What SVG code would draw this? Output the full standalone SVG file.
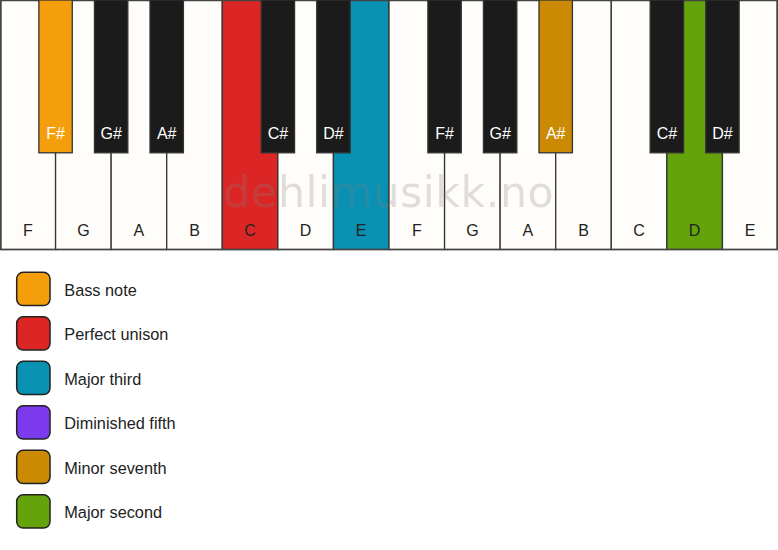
<svg xmlns="http://www.w3.org/2000/svg" width="778" height="550" viewBox="0 0 778 550">
<style>
.wk{fill:#fffdf9;stroke:#333;stroke-width:1.3}
.bk{fill:#1b1b1b;stroke:#333;stroke-width:1.3}
.wl{font-family:"Liberation Sans",Arial,sans-serif;font-size:16px;fill:#222;text-anchor:middle}
.bl{font-family:"Liberation Sans",Arial,sans-serif;font-size:16px;fill:#fff;text-anchor:middle}
.sw{stroke:#222;stroke-width:1.5}
.lt{font-family:"Liberation Sans",Arial,sans-serif;font-size:16.3px;fill:#222}
.wm{font-family:"DejaVu Sans",Verdana,sans-serif;font-size:42.5px;fill:#808080;fill-opacity:0.26}
</style>
<rect x="0" y="0" width="778" height="550" fill="#ffffff"/>
<g id="white-keys">
<g id="wk-F1"><rect class="wk" x="0.75" y="0" width="54.82" height="249.5"/><text class="wl" x="27.8" y="236">F</text></g>
<g id="wk-G1"><rect class="wk" x="55.57" y="0" width="55.57" height="249.5"/><text class="wl" x="83.4" y="236">G</text></g>
<g id="wk-A1"><rect class="wk" x="111.14" y="0" width="55.57" height="249.5"/><text class="wl" x="138.9" y="236">A</text></g>
<g id="wk-B1"><rect class="wk" x="166.71" y="0" width="55.57" height="249.5"/><text class="wl" x="194.5" y="236">B</text></g>
<g id="wk-C1"><rect class="wk" x="222.29" y="0" width="55.57" height="249.5" style="fill:#dc2626"/><text class="wl" x="250.1" y="236">C</text></g>
<g id="wk-D1"><rect class="wk" x="277.86" y="0" width="55.57" height="249.5"/><text class="wl" x="305.6" y="236">D</text></g>
<g id="wk-E1"><rect class="wk" x="333.43" y="0" width="55.57" height="249.5" style="fill:#0891b2"/><text class="wl" x="361.2" y="236">E</text></g>
<g id="wk-F2"><rect class="wk" x="389" y="0" width="55.57" height="249.5"/><text class="wl" x="416.8" y="236">F</text></g>
<g id="wk-G2"><rect class="wk" x="444.57" y="0" width="55.57" height="249.5"/><text class="wl" x="472.4" y="236">G</text></g>
<g id="wk-A2"><rect class="wk" x="500.14" y="0" width="55.57" height="249.5"/><text class="wl" x="527.9" y="236">A</text></g>
<g id="wk-B2"><rect class="wk" x="555.71" y="0" width="55.57" height="249.5"/><text class="wl" x="583.5" y="236">B</text></g>
<g id="wk-C2"><rect class="wk" x="611.29" y="0" width="55.57" height="249.5"/><text class="wl" x="639.1" y="236">C</text></g>
<g id="wk-D2"><rect class="wk" x="666.86" y="0" width="55.57" height="249.5" style="fill:#65a30d"/><text class="wl" x="694.6" y="236">D</text></g>
<g id="wk-E2"><rect class="wk" x="722.43" y="0" width="54.82" height="249.5"/><text class="wl" x="750.2" y="236">E</text></g>
</g>
<rect x="0.75" y="0.5" width="776.5" height="249" fill="none" stroke="#444" stroke-width="1.5"/>
<text class="wm" x="223.5" y="207" textLength="330" lengthAdjust="spacing">dehlimusikk.no</text>
<g id="black-keys">
<g id="bk-Fs1"><rect class="bk" x="38.87" y="0" width="33.4" height="152.8" style="fill:#f59e0b"/><text class="bl" x="55.57" y="139">F#</text></g>
<g id="bk-Gs1"><rect class="bk" x="94.44" y="0" width="33.4" height="152.8"/><text class="bl" x="111.14" y="139">G#</text></g>
<g id="bk-As1"><rect class="bk" x="150.01" y="0" width="33.4" height="152.8"/><text class="bl" x="166.71" y="139">A#</text></g>
<g id="bk-Cs1"><rect class="bk" x="261.16" y="0" width="33.4" height="152.8"/><text class="bl" x="277.86" y="139">C#</text></g>
<g id="bk-Ds1"><rect class="bk" x="316.73" y="0" width="33.4" height="152.8"/><text class="bl" x="333.43" y="139">D#</text></g>
<g id="bk-Fs2"><rect class="bk" x="427.87" y="0" width="33.4" height="152.8"/><text class="bl" x="444.57" y="139">F#</text></g>
<g id="bk-Gs2"><rect class="bk" x="483.44" y="0" width="33.4" height="152.8"/><text class="bl" x="500.14" y="139">G#</text></g>
<g id="bk-As2"><rect class="bk" x="539.01" y="0" width="33.4" height="152.8" style="fill:#ca8a04"/><text class="bl" x="555.71" y="139">A#</text></g>
<g id="bk-Cs2"><rect class="bk" x="650.16" y="0" width="33.4" height="152.8"/><text class="bl" x="666.86" y="139">C#</text></g>
<g id="bk-Ds2"><rect class="bk" x="705.73" y="0" width="33.4" height="152.8"/><text class="bl" x="722.43" y="139">D#</text></g>
</g>
<g id="legend">
<g id="lg-bass"><rect class="sw" x="16.7" y="272.3" width="33.3" height="33.3" rx="6.5" fill="#f59e0b"/><text class="lt" x="64.3" y="295.7">Bass note</text></g>
<g id="lg-unison"><rect class="sw" x="16.7" y="316.8" width="33.3" height="33.3" rx="6.5" fill="#dc2626"/><text class="lt" x="64.3" y="340.2">Perfect unison</text></g>
<g id="lg-third"><rect class="sw" x="16.7" y="361.3" width="33.3" height="33.3" rx="6.5" fill="#0891b2"/><text class="lt" x="64.3" y="384.7">Major third</text></g>
<g id="lg-fifth"><rect class="sw" x="16.7" y="405.8" width="33.3" height="33.3" rx="6.5" fill="#7c3aed"/><text class="lt" x="64.3" y="429.2">Diminished fifth</text></g>
<g id="lg-seventh"><rect class="sw" x="16.7" y="450.3" width="33.3" height="33.3" rx="6.5" fill="#ca8a04"/><text class="lt" x="64.3" y="473.7">Minor seventh</text></g>
<g id="lg-second"><rect class="sw" x="16.7" y="494.8" width="33.3" height="33.3" rx="6.5" fill="#65a30d"/><text class="lt" x="64.3" y="518.2">Major second</text></g>
</g>
</svg>
